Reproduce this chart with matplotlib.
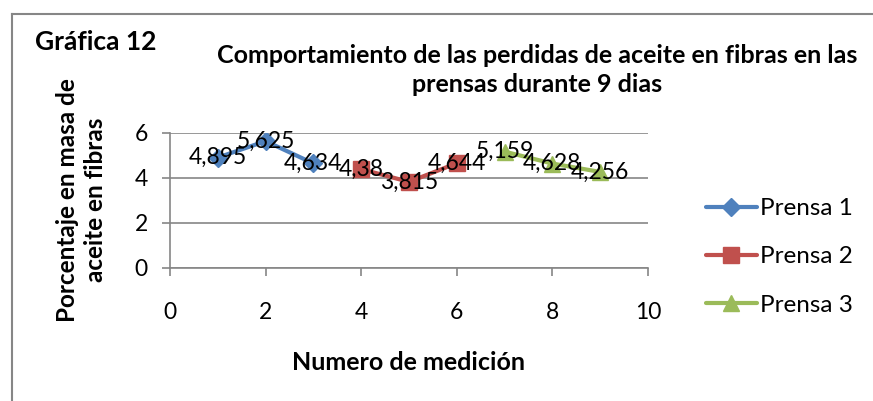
import matplotlib
matplotlib.use("Agg")
import matplotlib.pyplot as plt
from matplotlib.lines import Line2D

plt.rcParams['font.family'] = ['Lato', 'DejaVu Sans']

# Pérdidas de aceite por prensa (día de medición, porcentaje)
dias_p1 = [1, 2, 3]
valores_p1 = [4.895, 5.625, 4.634]
dias_p2 = [4, 5, 6]
valores_p2 = [4.38, 3.815, 4.644]
dias_p3 = [7, 8, 9]
valores_p3 = [5.159, 4.628, 4.256]

nombres = ["Prensa 1", "Prensa 2", "Prensa 3"]
colores = ["#4F81BD", "#C0504D", "#9BBB59"]
marcadores = ["D", "s", "^"]
tam_marcador = [9, 11, 11]

gris = "#868686"

fig = plt.figure(figsize=(8.73, 4.01), dpi=100)
ax = fig.add_axes([170 / 873, 1 - 267.7 / 401, 478 / 873, 135 / 401])

series = [(dias_p1, valores_p1), (dias_p2, valores_p2), (dias_p3, valores_p3)]
for (xs, ys), nombre, c, m, ms in zip(series, nombres, colores, marcadores, tam_marcador):
    ax.plot(xs, ys, color=c, lw=3, marker=m, ms=ms, label=nombre,
            solid_capstyle="round", zorder=3)
    for x, y in zip(xs, ys):
        # etiqueta con coma decimal
        ax.text(x, y, f"{y:g}".replace(".", ","), ha="center", va="center",
                fontsize=16.5, zorder=4)

ax.set_xlim(0, 10)
ax.set_ylim(0, 6)
ax.set_xticks([0, 2, 4, 6, 8, 10])
ax.set_yticks([0, 2, 4, 6])
ax.grid(axis="y", color=gris, lw=1.2)
ax.set_axisbelow(True)
for lado in ["top", "right"]:
    ax.spines[lado].set_visible(False)
for lado in ["left", "bottom"]:
    ax.spines[lado].set_color(gris)
    ax.spines[lado].set_linewidth(1.2)
ax.tick_params(axis="both", direction="out", length=6, color=gris, width=1.2,
               labelsize=16.5)
ax.tick_params(axis="x", pad=19)
ax.tick_params(axis="y", pad=10)

ax.set_xlabel("Numero de medición", fontsize=18, fontweight="bold", labelpad=20)
ax.set_ylabel("Porcentaje en masa de\naceite en fibras", fontsize=17.5,
              fontweight="bold", labelpad=20, linespacing=1.25)

fig.text(35 / 873, 1 - 42 / 401, "Gráfica 12", fontsize=19, fontweight="bold",
         va="center")
fig.text(537 / 873, 1 - 70 / 401,
         "Comportamiento de las perdidas de aceite en fibras en las\nprensas durante 9 dias",
         fontsize=18, fontweight="bold", ha="center", va="center", linespacing=1.3)

ax.legend(loc="center left", bbox_to_anchor=(1.1, 0.08), frameon=False,
          fontsize=17.5, handlelength=2.1, labelspacing=1.12, handletextpad=0.15,
          borderaxespad=0)

# marco del área del gráfico
fig.add_artist(Line2D([12 / 873, 12 / 873], [0, 1 - 14 / 401],
                      transform=fig.transFigure, color=gris, lw=1.5))
fig.add_artist(Line2D([12 / 873, 1], [1 - 14 / 401, 1 - 14 / 401],
                      transform=fig.transFigure, color=gris, lw=1.5))

fig.savefig("out.png", dpi=100)
